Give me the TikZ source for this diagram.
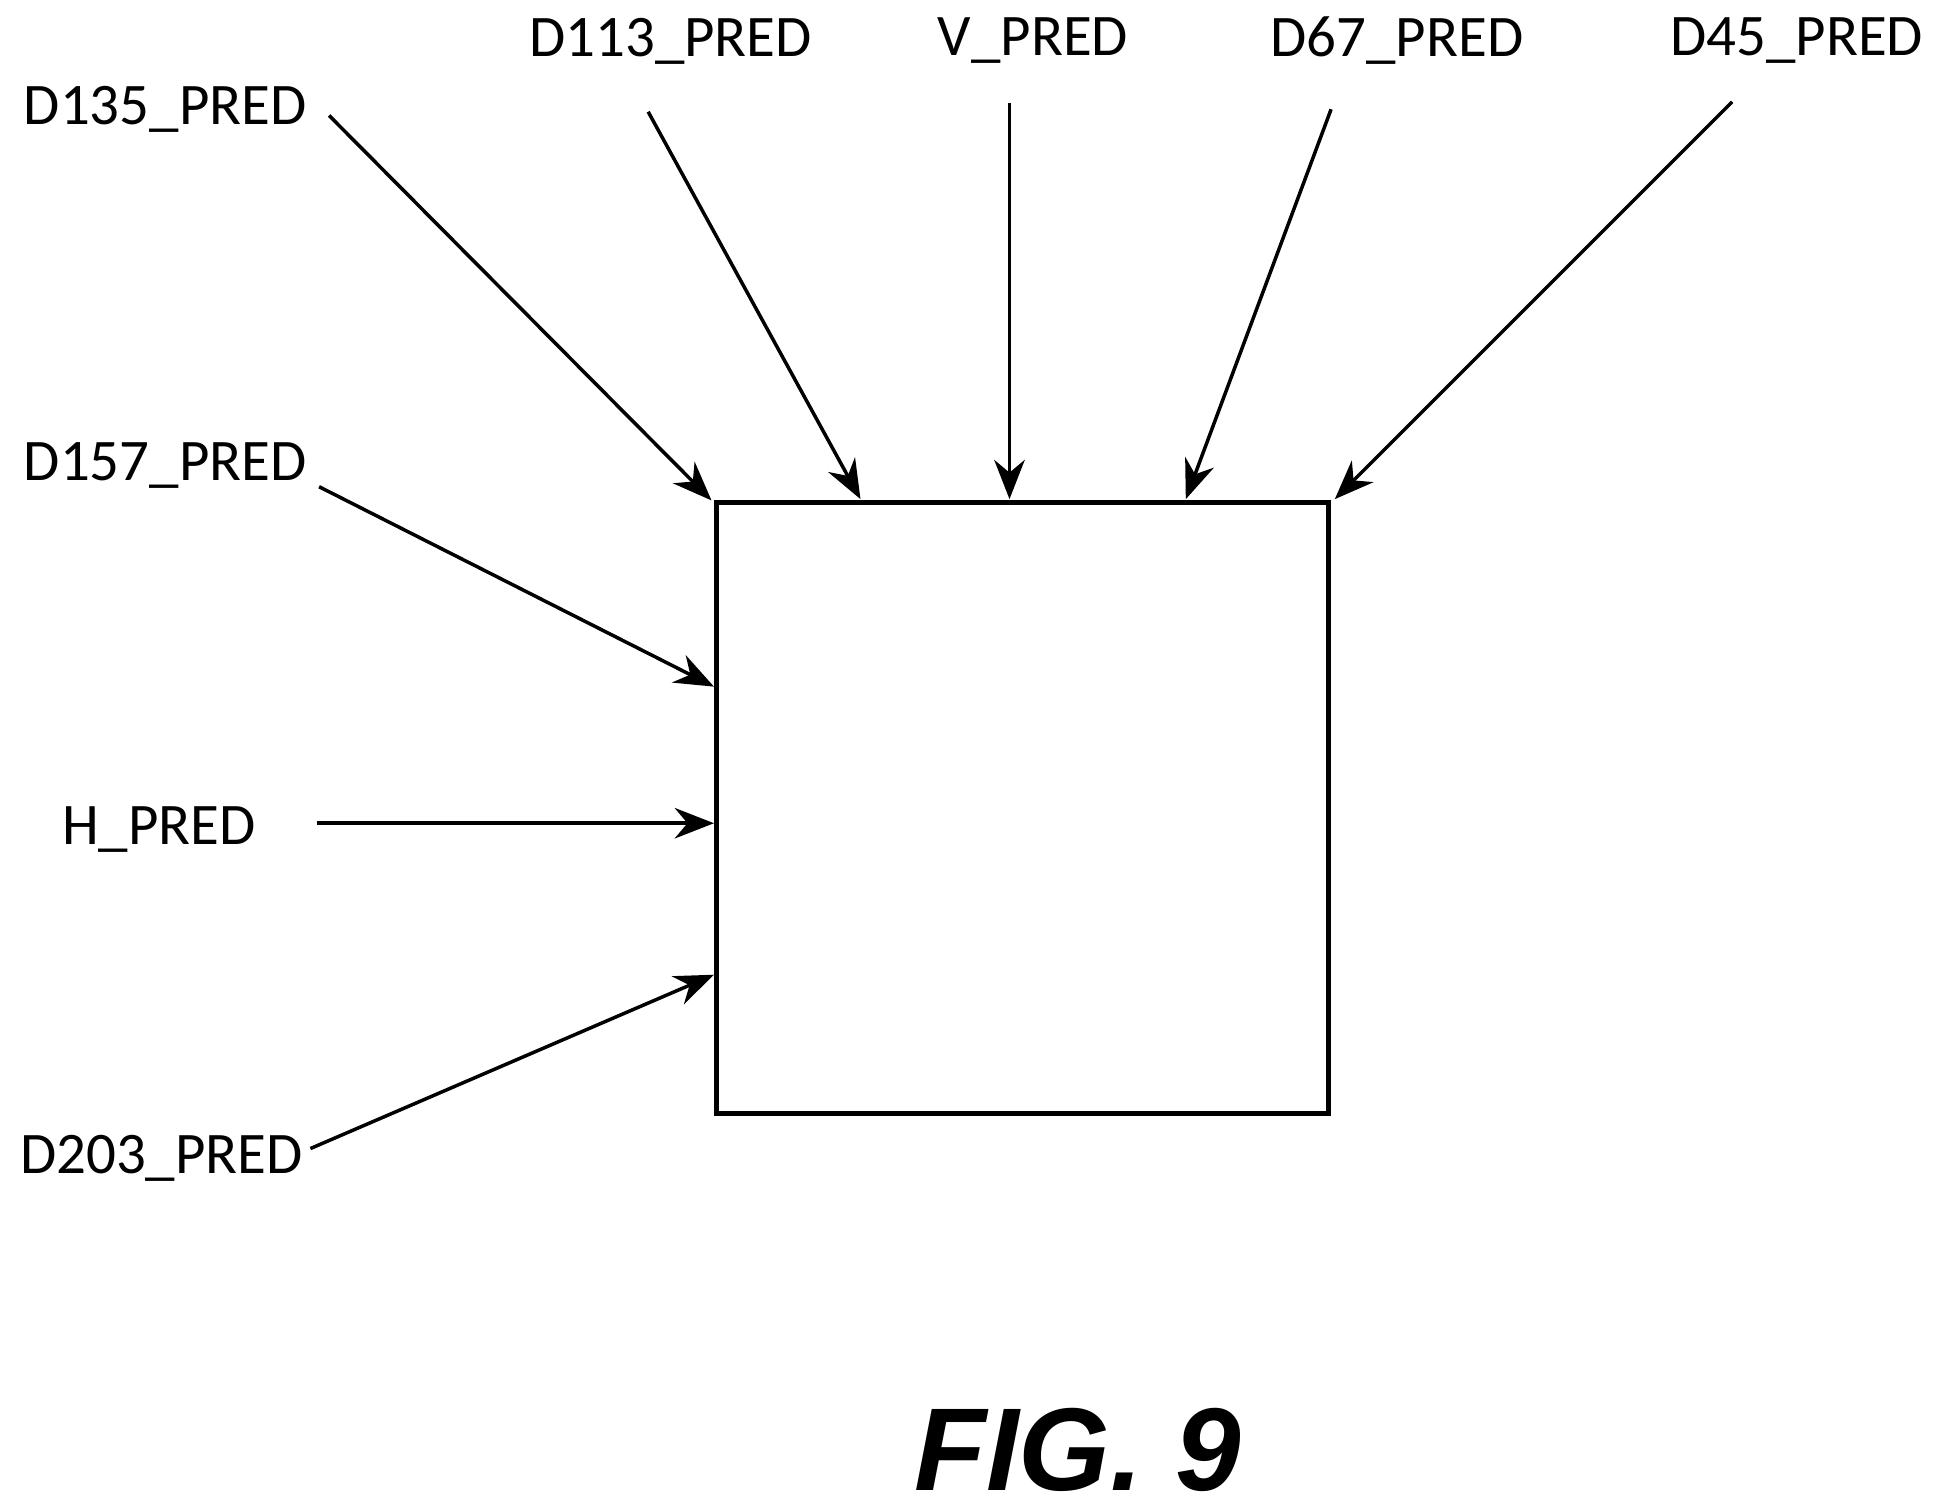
\documentclass[tikz,border=0pt]{standalone}
\usepackage{fontspec}
\setmainfont{Carlito}
\setsansfont{Liberation Sans}
\usetikzlibrary{arrows.meta}
\tikzset{
  lbl/.style={font=\fontsize{13.5}{15}\selectfont, inner sep=0pt},
  pred/.style={thick, -{Stealth[length=9pt,width=7pt]}}
}
\begin{document}
\begin{tikzpicture}
            \useasboundingbox (0,0) rectangle (15.6,-12.16);
            %block
            \draw[very thick] (5.77,-4.05) rectangle (10.70,-8.97);

            %labels
            \node[lbl] (d135) at (1.33,-0.88) {D135\_PRED};
            \node[lbl] (d113) at (5.40,-0.33) {D113\_PRED};
            \node[lbl] (v) at (8.32,-0.33) {V\_PRED};
            \node[lbl] (d67) at (11.25,-0.33) {D67\_PRED};
            \node[lbl] (d45) at (14.47,-0.33) {D45\_PRED};
            \node[lbl] (d157) at (1.33,-3.75) {D157\_PRED};
            \node[lbl] (h) at (1.28,-6.68) {H\_PRED};
            \node[lbl] (d203) at (1.30,-9.33) {D203\_PRED};

            %arrows
            \draw[pred] (2.65,-0.93) -- (5.73,-4.03);
            \draw[pred] (5.22,-0.90) -- (6.93,-4.02);
            \draw[pred] (8.13,-0.83) -- (8.13,-4.02);
            \draw[pred] (10.72,-0.88) -- (9.55,-4.02);
            \draw[pred] (13.95,-0.82) -- (10.75,-4.02);
            \draw[pred] (2.57,-3.92) -- (5.75,-5.53);
            \draw[pred] (2.55,-6.63) -- (5.75,-6.63);
            \draw[pred] (2.50,-9.25) -- (5.75,-7.85);

            \node[font=\sffamily\bfseries\itshape\fontsize{27}{30}\selectfont] (fig) at (8.68,-11.68) {FIG. 9};
        \end{tikzpicture}
\end{document}
